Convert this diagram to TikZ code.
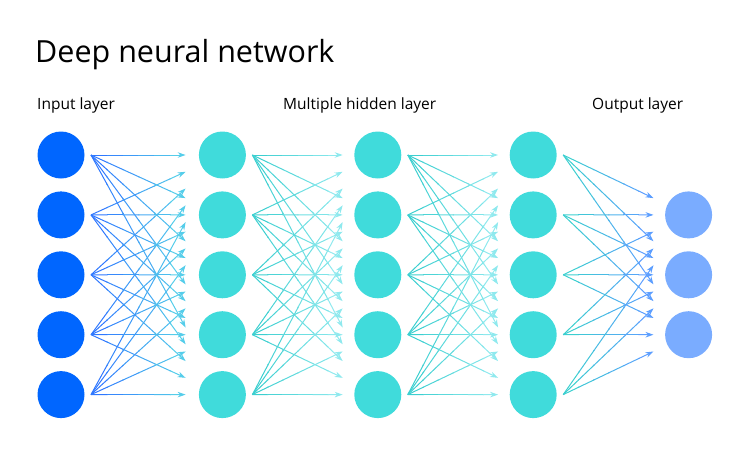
\documentclass[tikz,border=0pt]{standalone}
\usepackage{fontspec}
\setmainfont{Open Sans}
\usetikzlibrary{arrows.meta}
\usetikzlibrary{calc}
\usetikzlibrary{positioning}

\definecolor{inblue}{HTML}{0066FF}
\definecolor{hidcyan}{HTML}{40DBDB}
\definecolor{outblue}{HTML}{7AACFF}
\definecolor{wireblue}{HTML}{2F78FF}
\definecolor{wirecyan}{HTML}{3CCFD0}
\definecolor{wirepale}{HTML}{8FE9EE}
\definecolor{wiresky}{HTML}{55CDEA}
\definecolor{wireout}{HTML}{5C9EFF}

\tikzset{
  unit/.style={circle, minimum size=47pt, inner sep=0pt, draw=none},
  unit-in/.style={unit, fill=inblue},
  unit-hid/.style={unit, fill=hidcyan},
  unit-out/.style={unit, fill=outblue},
  wire/.style={line width=1pt},
  layer label/.style={font=\fontsize{15.5}{18}\selectfont, anchor=base west, inner sep=0pt},
}

% one connector, drawn in short pieces so that its colour fades
\newcommand{\wirefrom}[4]{%
  \coordinate (w-s) at ($(#1)+(30,0)$);
  \coordinate (w-e) at ($(w-s)!0.72!(#2)$);
  \foreach \k in {0,...,4} {
    \pgfmathsetmacro{\fa}{\k/6}
    \pgfmathsetmacro{\fb}{(\k+1)/6+0.01}
    \pgfmathtruncatemacro{\p}{100-\k*20}
    \draw[wire, draw={#3!\p!#4}] ($(w-s)!\fa!(w-e)$) -- ($(w-s)!\fb!(w-e)$);
  }
  \draw[wire, draw=#4, -{Stealth[length=8pt, width=5.5pt]}] ($(w-s)!0.8333!(w-e)$) -- (w-e);
}
% every source to every target, like \edge
\newcommand{\link}[4]{%
  \foreach \src in {#1} {
    \foreach \dst in {#2} {
      \wirefrom{\src}{\dst}{#3}{#4}
    }
  }
}

\begin{document}
\begin{tikzpicture}[x=1pt, y=-1pt]
  \useasboundingbox (0,0) rectangle (749,450);

  \node[anchor=base west, inner sep=0pt, font=\fontsize{30.5}{36}\selectfont] (title) at (35,62) {Deep neural network};
  \node[layer label] (lbl-in) at (37,109) {Input layer};
  \node[layer label] (lbl-hid) at (283,109) {Multiple hidden layer};
  \node[layer label] (lbl-out) at (592,109) {Output layer};

  \node[unit-in] (in-1) at (61,155) {};
  \node[unit-in, below=12.5pt of in-1] (in-2) {};
  \node[unit-in, below=12.5pt of in-2] (in-3) {};
  \node[unit-in, below=12.5pt of in-3] (in-4) {};
  \node[unit-in, below=12.5pt of in-4] (in-5) {};

  \node[unit-hid, right=114pt of in-1] (h1-1) {};
  \node[unit-hid, below=12.5pt of h1-1] (h1-2) {};
  \node[unit-hid, below=12.5pt of h1-2] (h1-3) {};
  \node[unit-hid, below=12.5pt of h1-3] (h1-4) {};
  \node[unit-hid, below=12.5pt of h1-4] (h1-5) {};

  \node[unit-hid, right=108pt of h1-1] (h2-1) {};
  \node[unit-hid, below=12.5pt of h2-1] (h2-2) {};
  \node[unit-hid, below=12.5pt of h2-2] (h2-3) {};
  \node[unit-hid, below=12.5pt of h2-3] (h2-4) {};
  \node[unit-hid, below=12.5pt of h2-4] (h2-5) {};

  \node[unit-hid, right=108pt of h2-1] (h3-1) {};
  \node[unit-hid, below=12.5pt of h3-1] (h3-2) {};
  \node[unit-hid, below=12.5pt of h3-2] (h3-3) {};
  \node[unit-hid, below=12.5pt of h3-3] (h3-4) {};
  \node[unit-hid, below=12.5pt of h3-4] (h3-5) {};

  \node[unit-out, right=108pt of h3-2] (out-1) {};
  \node[unit-out, below=12.5pt of out-1] (out-2) {};
  \node[unit-out, below=12.5pt of out-2] (out-3) {};

  \link{in-1,in-2,in-3,in-4,in-5}{h1-1,h1-2,h1-3,h1-4,h1-5}{wireblue}{wiresky}
  \link{h1-1,h1-2,h1-3,h1-4,h1-5}{h2-1,h2-2,h2-3,h2-4,h2-5}{wirecyan}{wirepale}
  \link{h2-1,h2-2,h2-3,h2-4,h2-5}{h3-1,h3-2,h3-3,h3-4,h3-5}{wirecyan}{wirepale}
  \link{h3-1,h3-2,h3-3,h3-4,h3-5}{out-1,out-2,out-3}{wirecyan}{wireout}
\end{tikzpicture}
\end{document}
